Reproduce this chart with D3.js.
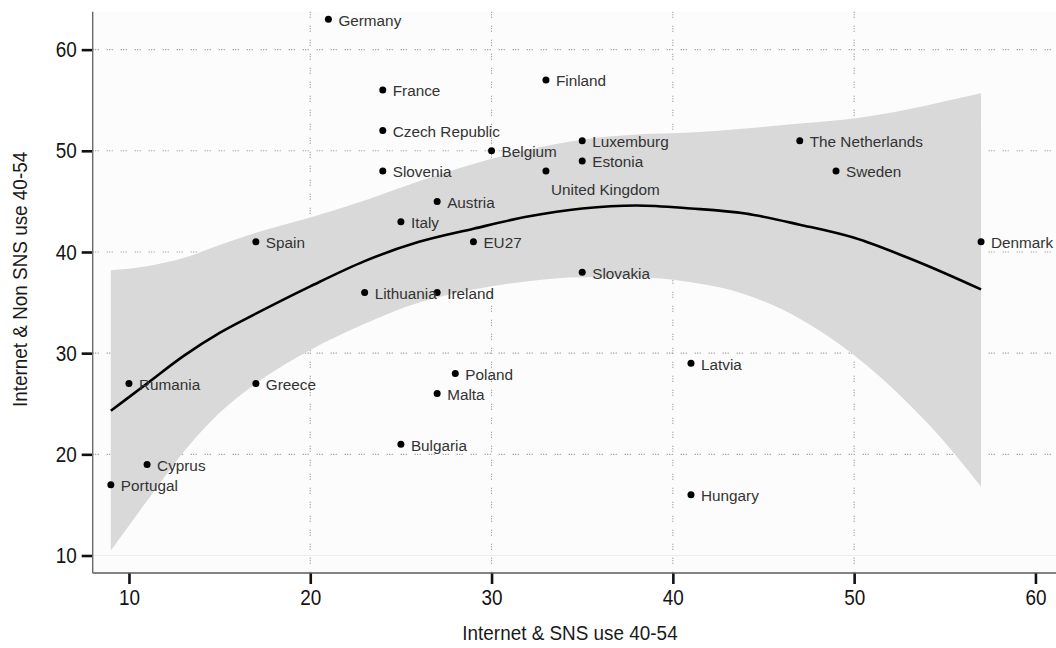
<!DOCTYPE html>
<html>
<head>
<meta charset="utf-8">
<script src="https://cdn.jsdelivr.net/npm/d3@7"></script>
<style>
  html, body { margin: 0; padding: 0; background: #ffffff; }
  svg { display: block; }
</style>
</head>
<body>
<svg id="chart" width="1056" height="648"></svg>
<script>
// Country observations: SNS use vs non-SNS use, age group 40-54
const countries = ["Germany", "France", "Czech Republic", "Slovenia", "Finland", "Belgium",
  "Luxemburg", "Estonia", "United Kingdom", "Austria", "Italy", "Spain", "EU27", "Denmark",
  "The Netherlands", "Sweden", "Slovakia", "Lithuania", "Ireland", "Latvia", "Poland", "Malta",
  "Rumania", "Greece", "Bulgaria", "Cyprus", "Portugal", "Hungary"];
const snsUse =    [21, 24, 24, 24, 33, 30, 35, 35, 33, 27, 25, 17, 29, 57, 47, 49, 35, 23, 27, 41, 28, 27, 10, 17, 25, 11, 9, 41];
const nonSnsUse = [63, 56, 52, 48, 57, 50, 51, 49, 48, 45, 43, 41, 41, 41, 51, 48, 38, 36, 36, 29, 28, 26, 27, 27, 21, 19, 17, 16];
// Labels that sit below their point instead of to the right
const labelsBelow = ["United Kingdom"];

// Smoothed fit with its confidence band
const fitX =     [9,    11,   13,   15,   17,   20,   23,   26,   29,   32,   35,   38,   41,   44,   47,   50,   53,   55,   57];
const fitY =     [24.3, 27.0, 29.7, 32.0, 33.9, 36.6, 39.1, 41.0, 42.3, 43.5, 44.3, 44.6, 44.3, 43.8, 42.7, 41.4, 39.4, 37.9, 36.3];
const fitLower = [10.5, 15.4, 20.2, 24.1, 27.0, 30.3, 32.9, 35.0, 36.3, 37.1, 37.5, 37.5, 37.0, 35.8, 33.4, 29.8, 25.0, 21.2, 16.8];
const fitUpper = [38.2, 38.6, 39.4, 40.7, 41.9, 43.4, 45.1, 47.0, 48.7, 50.1, 51.1, 51.6, 51.8, 52.2, 52.7, 53.2, 54.1, 54.9, 55.7];

// Axis ticks and titles
const xTicks = [10, 20, 30, 40, 50, 60];
const yTicks = [10, 20, 30, 40, 50, 60];
const xGrid = [20, 30, 40, 50];
const yGrid = [20, 30, 40, 50, 60];
const xTitle = "Internet & SNS use 40-54";
const yTitle = "Internet & Non SNS use 40-54";

const svg = d3.select("#chart");
const W = 1056, H = 648;
const TICK_SQUEEZE = 0.86;                 // horizontal squeeze for the narrow axis lettering
const TITLE_SQUEEZE = 0.9;
const axisFont = "'Liberation Sans', Arial, sans-serif";

const x = d3.scaleLinear().domain([8, 62]).range([92.7, 1071.7]);
const y = d3.scaleLinear().domain([8.27, 63.75]).range([573, 11.7]);

const plotLeft = x(8), plotBottom = y(8.27), plotTop = y(63.75), plotRight = W;

// Panel background
svg.append("rect")
  .attr("x", plotLeft).attr("y", plotTop)
  .attr("width", plotRight - plotLeft).attr("height", plotBottom - plotTop)
  .attr("fill", "#fcfcfc");

// Faint base line at 10
svg.append("line")
  .attr("x1", plotLeft).attr("x2", plotRight)
  .attr("y1", y(10)).attr("y2", y(10))
  .attr("stroke", "#ececec").attr("stroke-width", 1.2);

// Dotted grid
const grid = svg.append("g")
  .attr("stroke", "#8a8a8a").attr("stroke-width", 1.1)
  .attr("stroke-dasharray", "1,1.5,1,1.5,1,8");
grid.selectAll("line.h").data(yGrid).join("line").attr("class", "h")
  .attr("x1", plotLeft).attr("x2", plotRight)
  .attr("y1", d => y(d)).attr("y2", d => y(d));
grid.selectAll("line.v").data(xGrid).join("line").attr("class", "v")
  .attr("x1", d => x(d)).attr("x2", d => x(d))
  .attr("y1", plotTop).attr("y2", plotBottom);

// Confidence band
const band = fitX.map((v, i) => ({ x: v, lo: fitLower[i], hi: fitUpper[i], y: fitY[i] }));
svg.append("path")
  .datum(band)
  .attr("fill", "#d9d9d9")
  .attr("d", d3.area().x(d => x(d.x)).y0(d => y(d.lo)).y1(d => y(d.hi)).curve(d3.curveMonotoneX));

// Fitted curve
svg.append("path")
  .datum(band)
  .attr("fill", "none").attr("stroke", "#000").attr("stroke-width", 2.6)
  .attr("d", d3.line().x(d => x(d.x)).y(d => y(d.y)).curve(d3.curveMonotoneX));

// Axes
const xAxis = d3.axisBottom(x).tickValues(xTicks).tickSize(11).tickPadding(6).tickFormat(d3.format("d"));
const yAxis = d3.axisLeft(y).tickValues(yTicks).tickSize(11).tickPadding(5).tickFormat(d3.format("d"));

const gx = svg.append("g").attr("transform", `translate(0,${plotBottom})`).call(xAxis);
const gy = svg.append("g").attr("transform", `translate(${plotLeft},0)`).call(yAxis);
[gx, gy].forEach(g => {
  g.select(".domain").remove();
  g.selectAll(".tick line").attr("stroke", "#111").attr("stroke-width", 2.6);
  g.selectAll(".tick text")
    .attr("fill", "#141414")
    .style("font-family", axisFont)
    .style("font-size", "22px")
    .attr("x", function () { return (+d3.select(this).attr("x") || 0) / TICK_SQUEEZE; })
    .attr("transform", `scale(${TICK_SQUEEZE},1)`);
});
gx.selectAll(".tick text").attr("dy", "0.7em");

// Axis lines
svg.append("line").attr("x1", plotLeft).attr("x2", plotRight)
  .attr("y1", plotBottom).attr("y2", plotBottom)
  .attr("stroke", "#5a5a5a").attr("stroke-width", 1.4);
svg.append("line").attr("x1", plotLeft).attr("x2", plotLeft)
  .attr("y1", plotTop).attr("y2", plotBottom)
  .attr("stroke", "#6a6a6a").attr("stroke-width", 1.4);

// Points and country labels
const pts = countries.map((c, i) => ({ name: c, sx: snsUse[i], ny: nonSnsUse[i] }));
const gp = svg.append("g");
gp.selectAll("circle").data(pts).join("circle")
  .attr("cx", d => x(d.sx)).attr("cy", d => y(d.ny)).attr("r", 3.5)
  .attr("fill", "#000");
gp.selectAll("text").data(pts).join("text")
  .attr("x", d => labelsBelow.includes(d.name) ? x(d.sx) + 5 : x(d.sx) + 10)
  .attr("y", d => labelsBelow.includes(d.name) ? y(d.ny) + 19 : y(d.ny) + 1)
  .attr("dy", "0.35em")
  .attr("fill", "#333")
  .style("font-family", "'Liberation Sans', Arial, sans-serif")
  .style("font-size", "15.3px")
  .text(d => d.name);

// Axis titles
svg.append("text")
  .attr("transform", `translate(570,640) scale(${TITLE_SQUEEZE},1)`)
  .attr("text-anchor", "middle")
  .attr("fill", "#1a1a1a")
  .style("font-family", axisFont)
  .style("font-size", "21px")
  .text(xTitle);

svg.append("text")
  .attr("transform", `translate(27,407) rotate(-90) scale(${TITLE_SQUEEZE},1)`)
  .attr("text-anchor", "start")
  .attr("fill", "#1a1a1a")
  .style("font-family", axisFont)
  .style("font-size", "21px")
  .text(yTitle);
</script>
</body>
</html>
